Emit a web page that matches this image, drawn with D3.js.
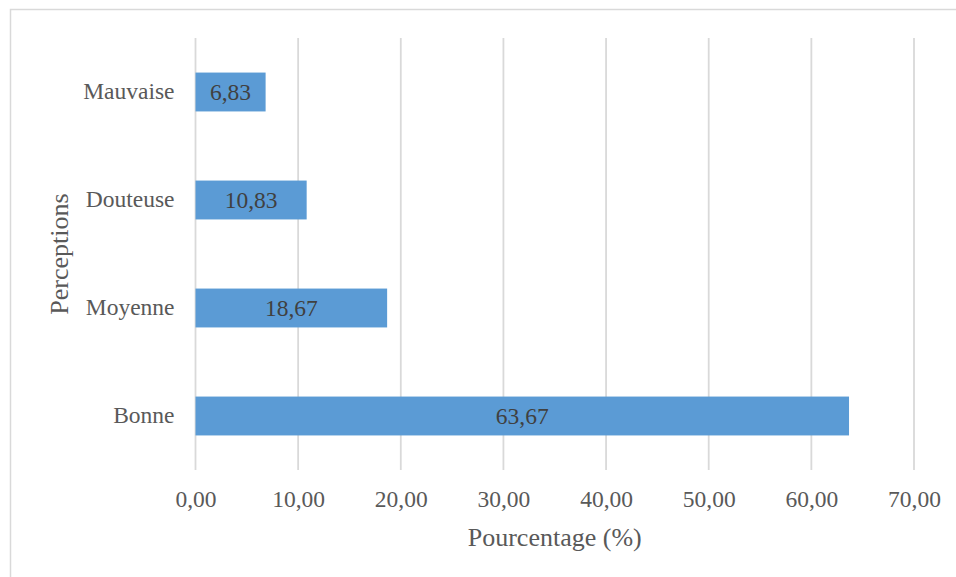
<!DOCTYPE html>
<html>
<head>
<meta charset="utf-8">
<script src="https://cdn.jsdelivr.net/npm/d3@7"></script>
<style>
  body { margin: 0; background: #fff; }
  svg { display: block; }
</style>
</head>
<body>
<div id="chart"></div>
<script>
// Data
const categories = ["Mauvaise", "Douteuse", "Moyenne", "Bonne"];
const values     = [6.83, 10.83, 18.67, 63.67];
const xTicks     = [0, 10, 20, 30, 40, 50, 60, 70];
const xTitle     = "Pourcentage (%)";
const yTitle     = "Perceptions";

// Dimensions
const W = 956, H = 577;
const plot = { left: 195.5, right: 914, top: 38, bottom: 470 };

const BAR_COLOR  = "#5B9BD5";
const GRID_COLOR = "#D9D9D9";
const TEXT_COLOR = "#595959";
const FONT = "'Liberation Serif', 'Times New Roman', serif";

const fmt = v => v.toFixed(2).replace(".", ",");

const svg = d3.select("#chart")
  .append("svg")
  .attr("width", W)
  .attr("height", H);

// Chart border
svg.append("rect")
  .attr("x", 10.5).attr("y", 9.5)
  .attr("width", W + 20).attr("height", H + 20)
  .attr("fill", "none")
  .attr("stroke", GRID_COLOR)
  .attr("stroke-width", 1.5);

// Scales
const x = d3.scaleLinear().domain([0, 70]).range([plot.left, plot.right]);
const y = d3.scaleBand()
  .domain(categories)
  .range([plot.top, plot.bottom])
  .paddingInner(0.64)
  .paddingOuter(0.32);

// Grid lines
svg.append("g")
  .selectAll("line")
  .data(xTicks)
  .enter()
  .append("line")
  .attr("x1", d => x(d)).attr("x2", d => x(d))
  .attr("y1", plot.top).attr("y2", plot.bottom)
  .attr("stroke", GRID_COLOR)
  .attr("stroke-width", 1.8);

// X axis labels
const xAxis = d3.axisBottom(x)
  .tickValues(xTicks)
  .tickFormat(fmt)
  .tickSize(0)
  .tickPadding(0);

const xg = svg.append("g")
  .attr("transform", `translate(0,${plot.bottom})`)
  .call(xAxis);
xg.select(".domain").remove();
xg.selectAll("text")
  .attr("y", 37)
  .attr("dy", 0)
  .style("font-family", FONT)
  .style("font-size", "23.5px")
  .style("fill", TEXT_COLOR);

// Y axis labels
const yAxis = d3.axisLeft(y).tickSize(0).tickPadding(21);
const yg = svg.append("g")
  .attr("transform", `translate(${plot.left},0)`)
  .call(yAxis);
yg.select(".domain").remove();
yg.selectAll("text")
  .attr("dy", "0.3em")
  .style("font-family", FONT)
  .style("font-size", "23.5px")
  .style("fill", TEXT_COLOR);

// Bars
svg.append("g")
  .selectAll("rect")
  .data(categories)
  .enter()
  .append("rect")
  .attr("x", x(0))
  .attr("y", d => y(d))
  .attr("width", (d, i) => x(values[i]) - x(0))
  .attr("height", y.bandwidth())
  .attr("fill", BAR_COLOR);

// Bar value labels
svg.append("g")
  .selectAll("text")
  .data(categories)
  .enter()
  .append("text")
  .attr("x", (d, i) => (x(0) + x(values[i])) / 2)
  .attr("y", d => y(d) + y.bandwidth() / 2)
  .attr("dy", "0.33em")
  .attr("text-anchor", "middle")
  .style("font-family", FONT)
  .style("font-size", "23.5px")
  .style("fill", "#404040")
  .text((d, i) => fmt(values[i]));

// Axis titles
svg.append("text")
  .attr("x", (plot.left + plot.right) / 2)
  .attr("y", 546)
  .attr("text-anchor", "middle")
  .style("font-family", FONT)
  .style("font-size", "26px")
  .style("fill", TEXT_COLOR)
  .text(xTitle);

svg.append("text")
  .attr("transform", `translate(68,${(plot.top + plot.bottom) / 2}) rotate(-90)`)
  .attr("text-anchor", "middle")
  .style("font-family", FONT)
  .style("font-size", "26px")
  .style("fill", TEXT_COLOR)
  .text(yTitle);
</script>
</body>
</html>
